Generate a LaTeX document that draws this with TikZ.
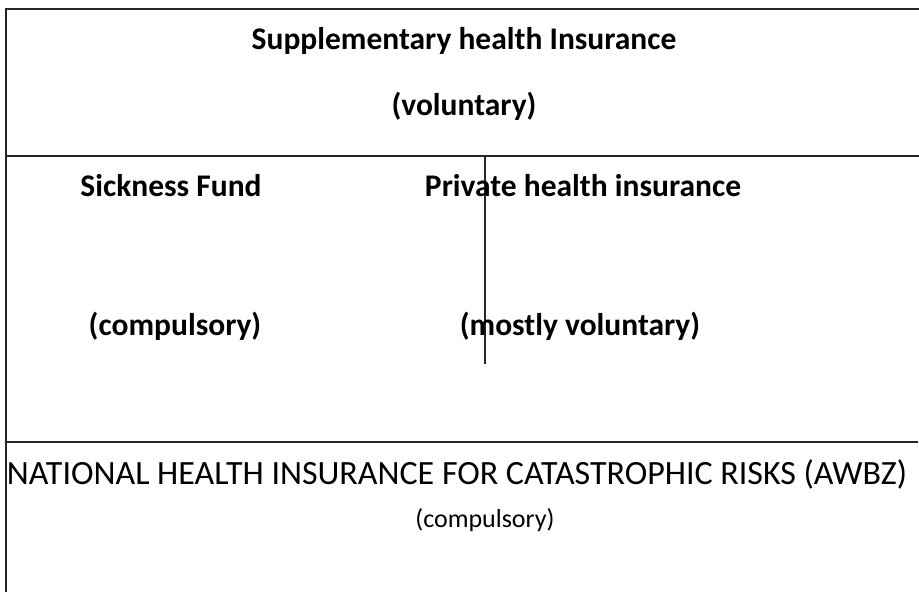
\documentclass[tikz,border=0pt]{standalone}
\usepackage{fontspec}
\setmainfont{Carlito}
\begin{document}
\begin{tikzpicture}[x=1pt,y=-1pt,
  frame/.style={line width=2pt,black!85},
  divider/.style={line width=1.5pt,black!85},
  label/.style={inner sep=0pt,anchor=center,font=\fontsize{31.5}{36}\selectfont\bfseries},
  plainlabel/.style={inner sep=0pt,anchor=center,font=\fontsize{34}{40}\selectfont},
  subnote/.style={inner sep=0pt,anchor=center,font=\fontsize{26}{30}\selectfont}]
\useasboundingbox (0,0) rectangle (919,592);
% outer frame: top and left edges
\draw[frame] (919,9) -- (6,9) -- (6,592);
% horizontal dividers
\draw[divider] (6,156) -- (919,156);
\draw[divider] (6,442) -- (918,442);
% partial vertical divider
\draw[line width=1.2pt,black!85] (485,156) -- (485,364);
% texts
\node[label] (supp) at (464,41) {Supplementary health Insurance};
\node[label] (suppv) at (464,106) {(voluntary)};
\node[label] (sick) at (171,186) {Sickness Fund};
\node[label] (priv) at (583,186) {Private health insurance};
\node[label] (sickc) at (175,326) {(compulsory)};
\node[label] (privv) at (580,326) {(mostly voluntary)};
\node[plainlabel] (awbz) at (457,474) {NATIONAL HEALTH INSURANCE FOR CATASTROPHIC RISKS (AWBZ)};
\node[subnote] (awbzc) at (485,520) {(compulsory)};
\end{tikzpicture}
\end{document}
